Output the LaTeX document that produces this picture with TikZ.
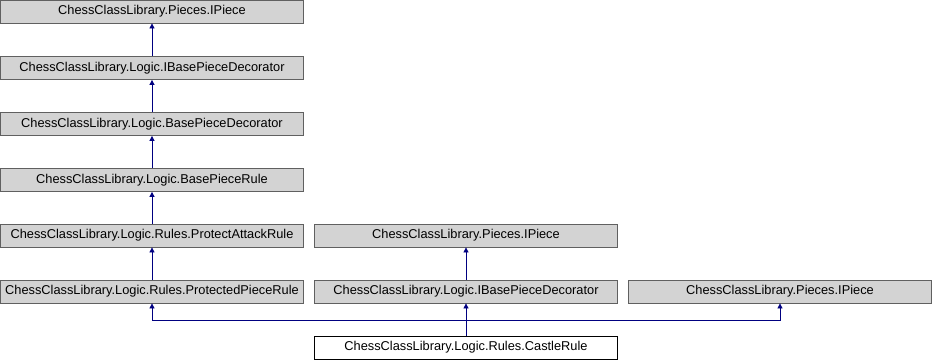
\documentclass[tikz,border=0pt]{standalone}
\usepackage{fontspec}
\setmainfont{Liberation Sans}
\usetikzlibrary{arrows.meta}
\definecolor{edge}{HTML}{000080}
\definecolor{boxfill}{HTML}{D3D3D3}
\definecolor{boxline}{HTML}{606060}

\begin{document}
\begin{tikzpicture}[x=1pt,y=1pt,
  cls/.style={draw=boxline,fill=boxfill,line width=0.8pt,minimum width=303pt,minimum height=23pt,inner sep=0pt,font=\fontsize{12.8}{14}\selectfont},
  this/.style={cls,draw=black,fill=white},
  inh/.style={draw=edge,line width=0.8pt,-{Triangle[length=5pt,width=5pt]}}]
\useasboundingbox (0,0) rectangle (932,-360);
% left column, one class per row
\node[cls] (piece1) at (152,-11.5) {ChessClassLibrary.Pieces.IPiece};
\node[cls] (ibase1) at (152,-68) {ChessClassLibrary.Logic.IBasePieceDecorator};
\node[cls] (basedeco) at (152,-124) {ChessClassLibrary.Logic.BasePieceDecorator};
\node[cls] (baserule) at (152,-180) {ChessClassLibrary.Logic.BasePieceRule};
\node[cls] (protattack) at (152,-235.5) {ChessClassLibrary.Logic.Rules.ProtectAttackRule};
\node[cls] (protpiece) at (152,-291.5) {ChessClassLibrary.Logic.Rules.ProtectedPieceRule};
% middle and right columns
\node[cls] (piece2) at (466,-235.5) {ChessClassLibrary.Pieces.IPiece};
\node[cls] (ibase2) at (466,-291.5) {ChessClassLibrary.Logic.IBasePieceDecorator};
\node[cls] (piece3) at (780,-291.5) {ChessClassLibrary.Pieces.IPiece};
\node[this] (castle) at (466,-347.5) {ChessClassLibrary.Logic.Rules.CastleRule};
\coordinate (bus) at (466,-320);
% inheritance arrows
\draw[inh] (ibase1) -- (piece1);
\draw[inh] (basedeco) -- (ibase1);
\draw[inh] (baserule) -- (basedeco);
\draw[inh] (protattack) -- (baserule);
\draw[inh] (protpiece) -- (protattack);
\draw[inh] (ibase2) -- (piece2);
\draw[inh] (castle) -- (ibase2);
\draw[inh] (bus) -| (protpiece);
\draw[inh] (bus) -| (piece3);
\end{tikzpicture}
\end{document}
